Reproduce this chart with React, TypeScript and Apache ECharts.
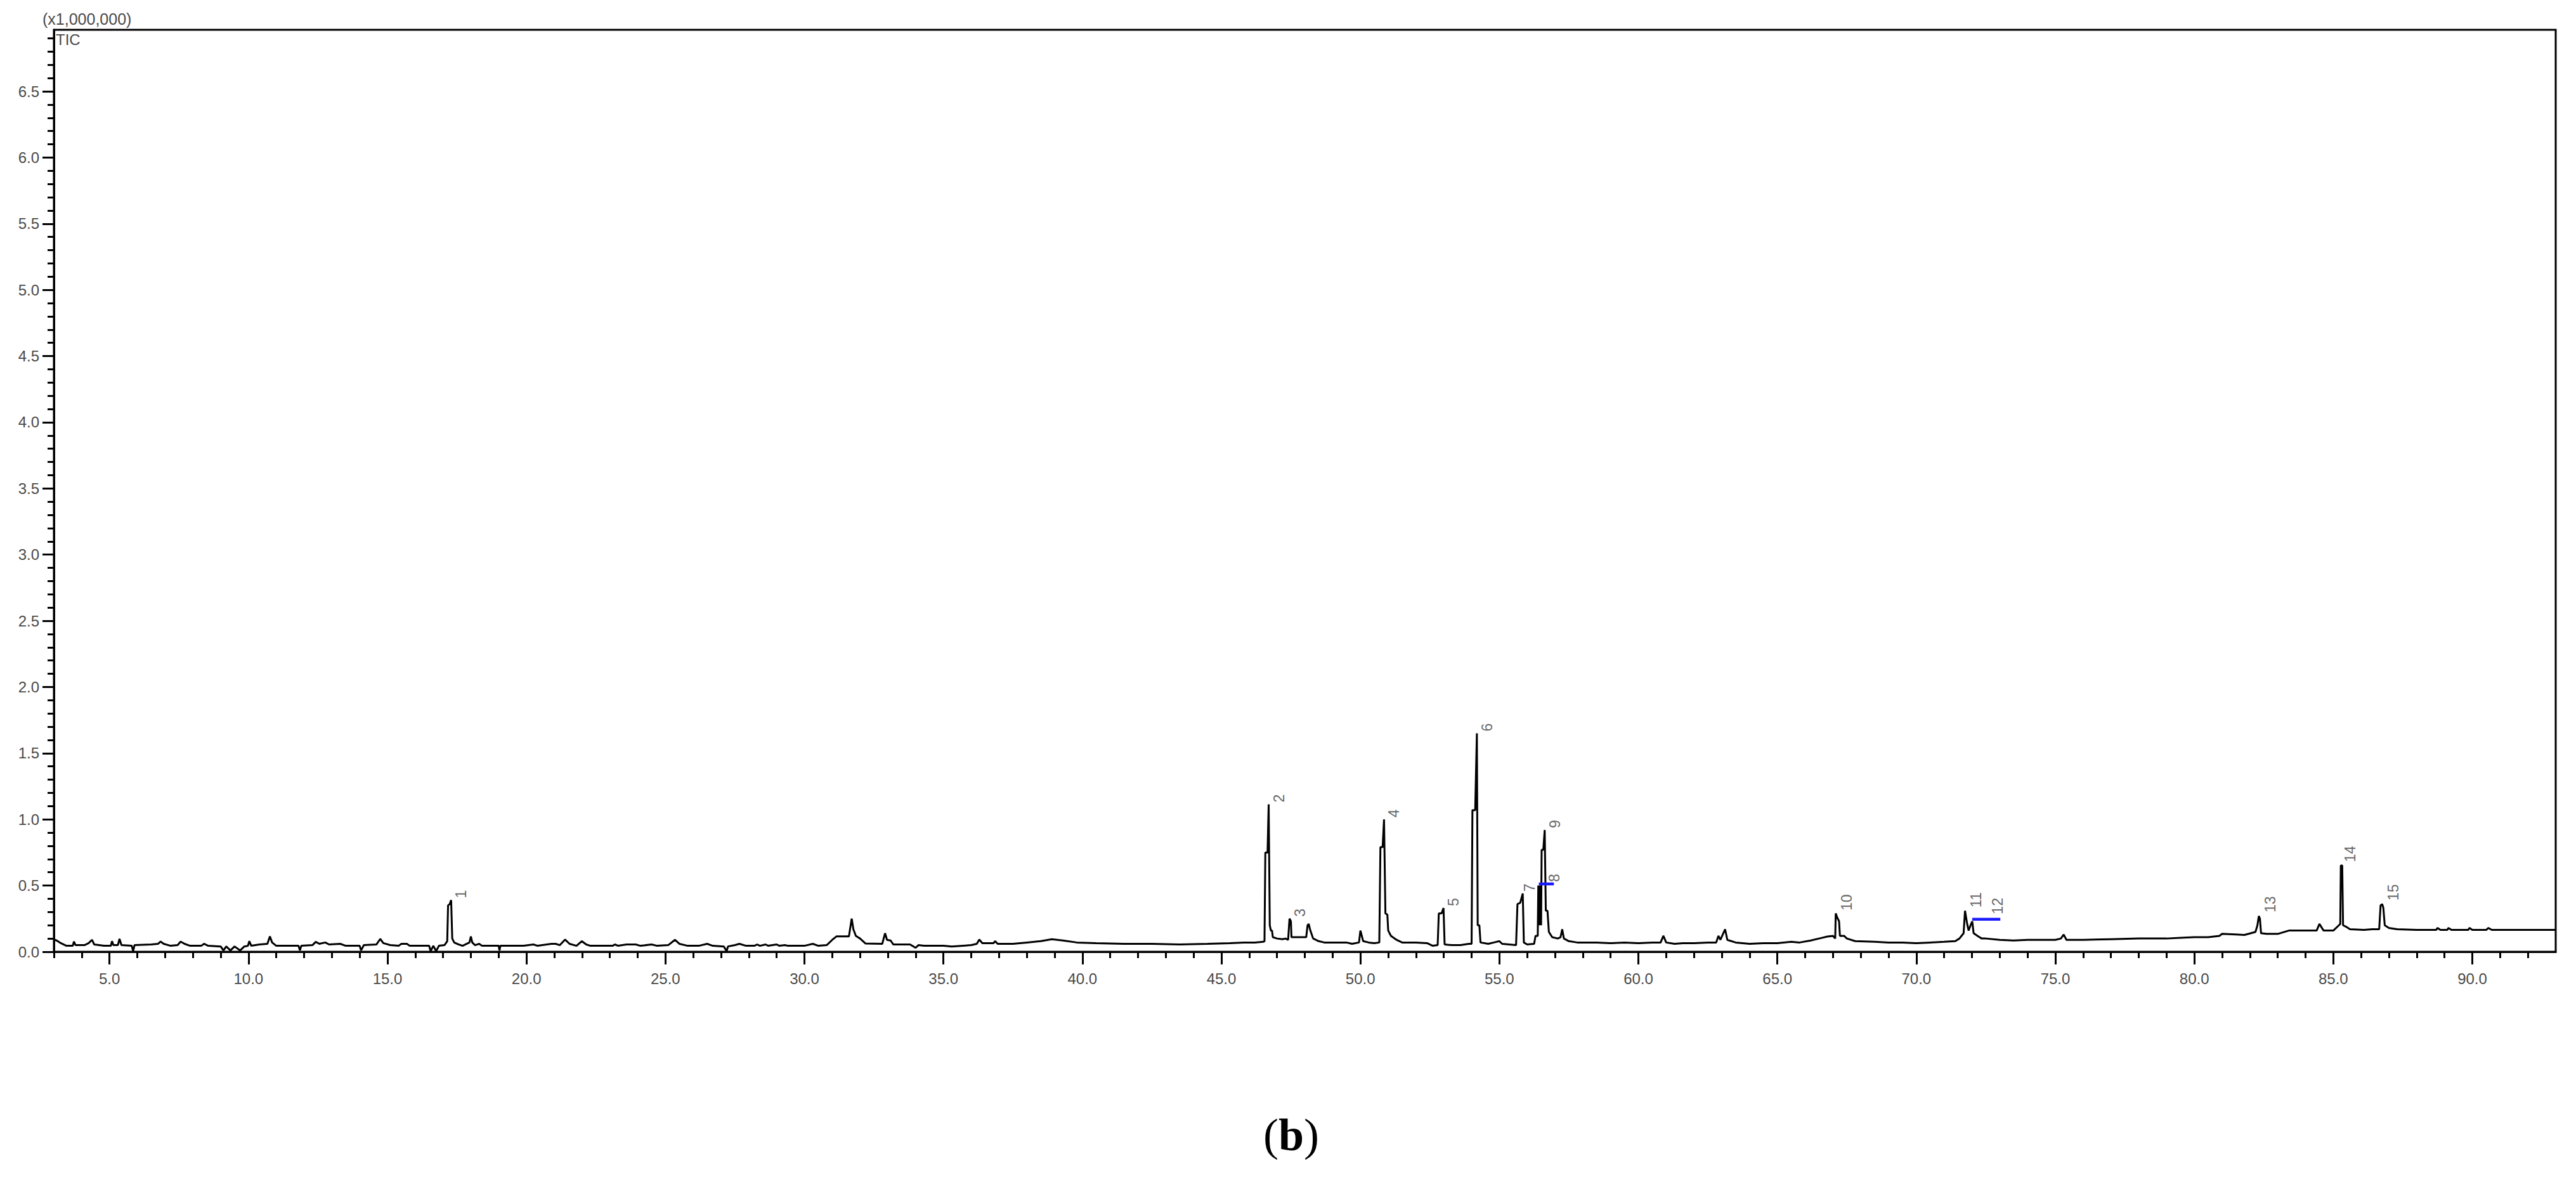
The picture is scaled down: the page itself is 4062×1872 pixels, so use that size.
import React, { useEffect, useRef } from "react";
import * as echarts from "echarts";

// Retention time (min) vs TIC intensity (x1,000,000)
const traceEarly: [number, number][] = [
  [3.0,0.092],[3.1,0.085],[3.25,0.065],[3.45,0.045],[3.68,0.045],[3.72,0.077],[3.78,0.05],[4.1,0.05],[4.25,0.065],[4.37,0.09],[4.45,0.055],[4.8,0.045],[5.05,0.045],[5.09,0.08],[5.14,0.05],[5.3,0.05],[5.36,0.097],[5.43,0.05],[5.8,0.045],[5.85,0.005],[5.9,0.05],[6.5,0.055],[6.75,0.06],[6.84,0.077],[6.95,0.06],[7.2,0.045],[7.45,0.05],[7.56,0.077],[7.7,0.06],[7.9,0.045],[8.3,0.045],[8.4,0.06],[8.55,0.045],[9.0,0.04],[9.1,0.01],[9.2,0.04],[9.35,0.01],[9.5,0.04],[9.7,0.01],[9.85,0.04],[9.98,0.045],[10.03,0.08],[10.1,0.045],[10.4,0.055],[10.68,0.06],[10.77,0.116],[10.85,0.07],[11.0,0.045],[11.8,0.045],[11.85,0.01],[11.9,0.045],[12.3,0.05],[12.42,0.075],[12.55,0.06],[12.76,0.07],[12.9,0.055],[13.3,0.06],[13.5,0.045],[14.0,0.045],[14.05,0.01],[14.15,0.05],[14.6,0.055],[14.74,0.097],[14.85,0.065],[15.1,0.05],[15.4,0.045],[15.5,0.06],[15.7,0.06],[15.8,0.045],[16.5,0.045],[16.55,0.005],[16.65,0.045],[16.75,0.005],[16.85,0.045],[17.05,0.05],[17.15,0.08],[17.18,0.35],[17.24,0.36],[17.29,0.39],[17.33,0.1],[17.4,0.07],[17.5,0.06],[17.7,0.045],[17.95,0.07],[18.0,0.116],[18.05,0.07],[18.15,0.05],[18.3,0.06],[18.4,0.045],[19.0,0.045],[19.03,0.01],[19.06,0.045],[19.9,0.045],[20.25,0.055],[20.4,0.045],[20.9,0.06],[21.05,0.06],[21.2,0.05],[21.39,0.092],[21.55,0.06],[21.8,0.045],[21.99,0.08],[22.15,0.055],[22.3,0.045],[23.1,0.045],[23.18,0.055],[23.3,0.045],[23.6,0.055],[23.93,0.055],[24.1,0.045],[24.5,0.055],[24.7,0.045],[25.1,0.05],[25.34,0.09],[25.5,0.06],[25.8,0.045],
];
const traceMiddle: [number, number][] = [
  [26.2,0.045],[26.5,0.06],[26.7,0.045],[27.1,0.04],[27.2,0.005],[27.25,0.04],[27.5,0.05],[27.66,0.06],[27.9,0.045],[28.2,0.045],[28.3,0.055],[28.4,0.045],[28.6,0.055],[28.7,0.045],[29.0,0.055],[29.1,0.045],[29.3,0.05],[29.4,0.045],[30.0,0.045],[30.3,0.06],[30.5,0.045],[30.8,0.05],[31.0,0.09],[31.15,0.116],[31.6,0.116],[31.7,0.25],[31.76,0.17],[31.85,0.12],[32.0,0.1],[32.2,0.062],[32.8,0.06],[32.9,0.14],[32.97,0.09],[33.1,0.085],[33.2,0.055],[33.8,0.055],[34.0,0.03],[34.1,0.05],[34.3,0.045],[35.0,0.045],[35.3,0.04],[36.0,0.05],[36.2,0.06],[36.29,0.092],[36.4,0.065],[36.8,0.065],[36.86,0.08],[36.95,0.06],[37.5,0.06],[38.0,0.07],[38.5,0.08],[38.9,0.095],[39.3,0.085],[39.8,0.07],[40.5,0.065],[41.5,0.06],[42.5,0.06],[43.5,0.055],[44.5,0.06],[45.3,0.065],[45.8,0.07],[46.2,0.07],[46.5,0.075],
];
const traceCluster: [number, number][] = [
  [46.55,0.08],[46.58,0.75],[46.66,0.75],[46.7,1.114],[46.74,0.2],[46.78,0.16],[46.82,0.16],[46.85,0.11],[47.0,0.1],[47.2,0.095],[47.3,0.1],[47.4,0.09],[47.45,0.25],[47.5,0.23],[47.52,0.11],[48.05,0.11],[48.1,0.2],[48.14,0.21],[48.2,0.16],[48.3,0.1],[48.5,0.08],[48.7,0.07],[49.5,0.07],[49.7,0.06],[49.95,0.07],[50.0,0.16],[50.05,0.12],[50.1,0.08],[50.3,0.07],[50.5,0.065],[50.68,0.07],[50.72,0.79],[50.8,0.79],[50.85,1.0],[50.9,0.29],[50.97,0.28],[51.0,0.16],[51.1,0.12],[51.3,0.09],[51.5,0.07],[52.0,0.07],[52.4,0.065],[52.6,0.045],[52.78,0.05],[52.82,0.29],[52.92,0.29],[52.99,0.33],[53.03,0.055],[53.3,0.05],[53.6,0.05],[53.9,0.06],[54.0,0.06],[54.03,1.07],[54.13,1.07],[54.19,1.65],[54.22,0.2],[54.28,0.2],[54.32,0.07],[54.6,0.06],[54.8,0.07],[55.0,0.08],[55.1,0.06],[55.6,0.05],[55.65,0.36],[55.75,0.37],[55.84,0.44],[55.88,0.07],[56.0,0.055],[56.25,0.06],[56.3,0.12],[56.38,0.12],[56.4,0.5],[56.42,0.2],[56.44,0.5],[56.46,0.2],[56.48,0.5],[56.5,0.2],[56.52,0.77],[56.58,0.77],[56.63,0.92],[56.67,0.31],[56.73,0.31],[56.78,0.15],[56.9,0.11],[57.1,0.1],[57.2,0.11],[57.26,0.17],[57.32,0.1],[57.5,0.08],[57.8,0.07],
];
const traceLateA: [number, number][] = [
  [58.5,0.07],[59.0,0.065],[59.5,0.07],[60.0,0.065],[60.5,0.07],[60.8,0.07],[60.9,0.12],[61.0,0.07],[61.3,0.06],[61.6,0.065],[62.0,0.065],[62.5,0.07],[62.8,0.07],[62.88,0.12],[62.95,0.09],[63.12,0.17],[63.2,0.09],[63.5,0.07],[64.0,0.06],[64.5,0.065],[65.0,0.065],[65.5,0.075],[65.8,0.07],[66.2,0.085],[66.5,0.1],[66.8,0.115],[67.0,0.12],[67.08,0.1],[67.1,0.29],[67.15,0.26],[67.22,0.23],[67.25,0.12],[67.4,0.12],[67.5,0.1],[67.8,0.08],[68.5,0.075],[69.0,0.07],[69.5,0.07],[70.0,0.065],[70.5,0.07],[71.0,0.075],[71.4,0.08],[71.55,0.1],[71.7,0.14],[71.75,0.31],[71.82,0.22],[71.88,0.16],[71.95,0.2],[72.01,0.23],[72.06,0.14],[72.2,0.12],[72.35,0.1],[72.5,0.1],
];
const traceLateB: [number, number][] = [
  [73.0,0.09],[73.5,0.085],[74.0,0.09],[74.5,0.09],[75.0,0.09],[75.2,0.1],[75.3,0.13],[75.4,0.09],[76.0,0.09],[77.0,0.095],[78.0,0.1],[79.0,0.1],[79.5,0.105],[80.0,0.11],[80.5,0.11],[80.9,0.12],[81.0,0.135],[81.5,0.13],[81.8,0.127],[82.2,0.15],[82.27,0.2],[82.32,0.27],[82.36,0.25],[82.4,0.14],[82.6,0.135],[83.0,0.135],[83.4,0.16],[84.0,0.16],[84.4,0.16],[84.5,0.21],[84.65,0.16],[85.0,0.16],[85.2,0.2],[85.25,0.21],[85.27,0.651],[85.32,0.651],[85.35,0.2],[85.45,0.19],[85.6,0.17],[86.1,0.165],[86.4,0.17],[86.65,0.17],[86.7,0.35],[86.76,0.36],[86.8,0.33],[86.85,0.2],[87.0,0.18],[87.3,0.17],[88.0,0.165],[88.7,0.165],[88.75,0.18],[88.85,0.165],[89.1,0.165],[89.14,0.18],[89.25,0.165],[89.85,0.165],[89.9,0.18],[90.0,0.165],[90.5,0.165],[90.58,0.18],[90.7,0.165],[93.0,0.165],
];

// Peak numbering and where each number sits
const peakIds = ["1","2","3","4","5","6","7","8","9","10","11","12","13","14","15"];
const peakTimes = [17.29, 46.7, 47.47, 50.85, 52.99, 54.19, 55.72, 56.62, 56.63, 67.13, 71.78, 72.56, 82.37, 85.24, 86.79];
const peakHeights = [0.39, 1.114, 0.25, 1.0, 0.33, 1.65, 0.44, 0.512, 0.92, 0.297, 0.32, 0.27, 0.283, 0.663, 0.373];

// Blue integration baselines
const baseline8: [number, number][] = [[56.42, 0.512], [56.96, 0.512]];
const baseline12: [number, number][] = [[72.01, 0.245], [73.02, 0.245]];

// Axis ticks
const xMajorTicks = [5, 10, 15, 20, 25, 30, 35, 40, 45, 50, 55, 60, 65, 70, 75, 80, 85, 90];
const yMajorTicks = [0, 0.5, 1, 1.5, 2, 2.5, 3, 3.5, 4, 4.5, 5, 5.5, 6, 6.5];
const X_MIN = 3;
const X_MAX = 93;
const Y_MIN = 0;
const Y_MAX = 6.965;

export default function App() {
  const ref = useRef<HTMLDivElement>(null);

  useEffect(() => {
    if (!ref.current) return;
    const chart = echarts.init(ref.current, null, { renderer: "svg" });

    const xMinorTicks: number[] = [];
    for (let v = X_MIN; v < X_MAX; v += 1) xMinorTicks.push(v);
    const yMinorTicks: number[] = [];
    for (let i = 1; i < 70; i++) yMinorTicks.push(i / 10);

    const trace = [...traceEarly, ...traceMiddle, ...traceCluster, ...traceLateA, ...traceLateB];
    const labelData = peakIds.map((id, i) => [peakTimes[i], peakHeights[i], id]);

    const axisLabelStyle = {
      color: "#4a4a4a",
      fontSize: 24,
      fontFamily: "Liberation Sans, Arial, sans-serif",
    };

    chart.setOption({
      animation: false,
      backgroundColor: "#ffffff",
      grid: {
        left: 85,
        right: 32,
        top: 47,
        bottom: 371,
        show: true,
        borderColor: "#000",
        borderWidth: 3,
        backgroundColor: "transparent",
      },
      xAxis: [
        {
          type: "value",
          min: X_MIN,
          max: X_MAX,
          position: "bottom",
          axisLine: { show: true, onZero: false, lineStyle: { color: "#000", width: 3 } },
          axisTick: { show: true, customValues: xMajorTicks, length: 20, lineStyle: { color: "#000", width: 3 } },
          axisLabel: {
            show: true,
            customValues: xMajorTicks,
            formatter: (v: number) => v.toFixed(1),
            margin: 30,
            ...axisLabelStyle,
          },
          splitLine: { show: false },
        },
        {
          type: "value",
          min: X_MIN,
          max: X_MAX,
          position: "bottom",
          axisLine: { show: false },
          axisTick: { show: true, customValues: xMinorTicks, length: 10, lineStyle: { color: "#000", width: 3 } },
          axisLabel: { show: false },
          splitLine: { show: false },
        },
      ],
      yAxis: [
        {
          type: "value",
          min: Y_MIN,
          max: Y_MAX,
          position: "left",
          axisLine: { show: true, onZero: false, lineStyle: { color: "#000", width: 3 } },
          axisTick: { show: true, customValues: yMajorTicks, length: 18, lineStyle: { color: "#000", width: 3 } },
          axisLabel: {
            show: true,
            customValues: yMajorTicks,
            formatter: (v: number) => v.toFixed(1),
            margin: 23,
            ...axisLabelStyle,
          },
          splitLine: { show: false },
        },
        {
          type: "value",
          min: Y_MIN,
          max: Y_MAX,
          position: "left",
          axisLine: { show: false },
          axisTick: { show: true, customValues: yMinorTicks, length: 10, lineStyle: { color: "#000", width: 3 } },
          axisLabel: { show: false },
          splitLine: { show: false },
        },
      ],
      series: [
        {
          type: "line",
          name: "TIC",
          data: trace,
          xAxisIndex: 0,
          yAxisIndex: 0,
          symbol: "none",
          showSymbol: false,
          lineStyle: { color: "#000", width: 3 },
          z: 3,
        },
        {
          type: "line",
          data: baseline8,
          symbol: "none",
          lineStyle: { color: "#1a1aff", width: 4.5 },
          z: 4,
        },
        {
          type: "line",
          data: baseline12,
          symbol: "none",
          lineStyle: { color: "#1a1aff", width: 4.5 },
          z: 4,
        },
        {
          type: "scatter",
          data: labelData,
          symbolSize: 0,
          silent: true,
          z: 5,
          label: {
            show: true,
            formatter: (p: any) => p.data[2],
            position: [16, -3],
            rotate: 90,
            align: "left",
            verticalAlign: "middle",
            color: "#404040",
            fontSize: 23,
            fontFamily: "Liberation Sans, Arial, sans-serif",
          },
        },
      ],
      graphic: [
        {
          type: "text",
          left: 67,
          top: 17,
          style: {
            text: "(x1,000,000)",
            fill: "#4a4a4a",
            fontSize: 25,
            fontFamily: "Liberation Sans, Arial, sans-serif",
          },
        },
        {
          type: "text",
          left: 88,
          top: 50,
          style: {
            text: "TIC",
            fill: "#4a4a4a",
            fontSize: 24,
            fontFamily: "Liberation Sans, Arial, sans-serif",
          },
        },
        {
          type: "text",
          x: 2036,
          y: 1790,
          style: {
            text: "{p|(}{b|b}{p|)}",
            align: "center",
            verticalAlign: "middle",
            fill: "#000",
            rich: {
              p: { fontSize: 72, fontFamily: "Liberation Serif, Times New Roman, serif", fill: "#000" },
              b: { fontSize: 72, fontWeight: "bold", fontFamily: "Liberation Serif, Times New Roman, serif", fill: "#000" },
            },
          },
        },
      ],
    });

    return () => chart.dispose();
  }, []);

  return (
    <div
      ref={ref}
      style={{ position: "fixed", left: 0, top: 0, width: 4062, height: 1872, background: "#fff" }}
    />
  );
}
